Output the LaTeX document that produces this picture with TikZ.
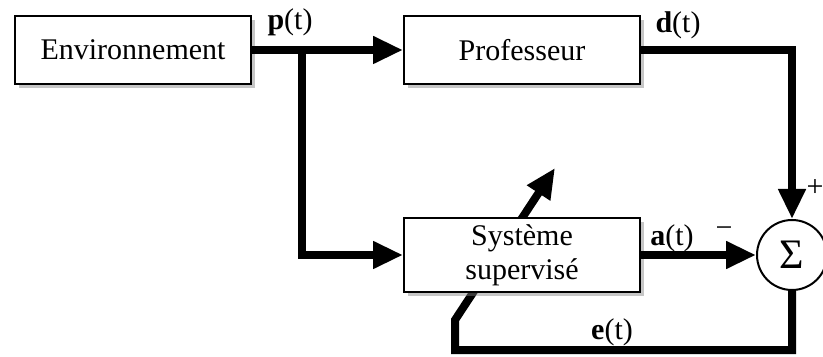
\documentclass[tikz,border=0pt]{standalone}
\usepackage{fontspec}
\setmainfont{Liberation Serif}
\usetikzlibrary{arrows.meta, positioning, shadows, backgrounds}
\tikzset{
    myblock/.style={draw, line width=1pt, fill=white, minimum width=118pt, minimum height=34pt,
        font=\fontsize{15}{17}\selectfont,
        drop shadow={shadow xshift=2pt, shadow yshift=-2pt, opacity=0.45}},
    mylabel/.style={font=\fontsize{15}{17}\selectfont}
}

\begin{document}
\begin{tikzpicture}[x=0.5pt,y=-0.5pt]
\tikzset{
    mysum/.style={draw, circle, line width=1pt, fill=white, minimum size=35pt, inner sep=0pt,
        font=\fontsize{21}{24}\selectfont},
    mysignal/.style={line width=4pt, -{Triangle[length=15pt,width=13pt]}}
}
  \useasboundingbox (0,0) rectangle (823,357);
  \node[myblock] (env) at (133,50) {Environnement};
  \node[myblock] (prof) at (522,50) {Professeur};
  \node[myblock, align=center] (sys) at (522,255) {Système\\supervisé};
  \node[mysum] (sum) at (792,255) {Σ};
  \coordinate (branch) at (302,50);
  \coordinate (fbcorner) at (455,320);
  \coordinate (adapt) at (555,168);
  \node[mylabel] (plab) at (290,22) {\textbf{p}(t)};
  \node[mylabel] (dlab) at (678,25) {\textbf{d}(t)};
  \node[mylabel] (alab) at (672,238) {\textbf{a}(t)};
  \node[mylabel] (minus) at (724,232) {−};
  \node[mylabel] (elab) at (612,332) {\textbf{e}(t)};
  \node[mylabel, inner sep=0pt] (plus) at (815,188) {+};
  \draw[mysignal] (env) -- (prof);
  \draw[mysignal] (branch) |- (sys);
  \draw[mysignal] (prof.east) -| (sum);
  \draw[mysignal] (sys) -- (sum);
  \begin{scope}[on background layer]
    \draw[mysignal] (sum.south) |- (fbcorner |- 0,350) -- (fbcorner) -- (adapt);
  \end{scope}
\end{tikzpicture}
\end{document}
